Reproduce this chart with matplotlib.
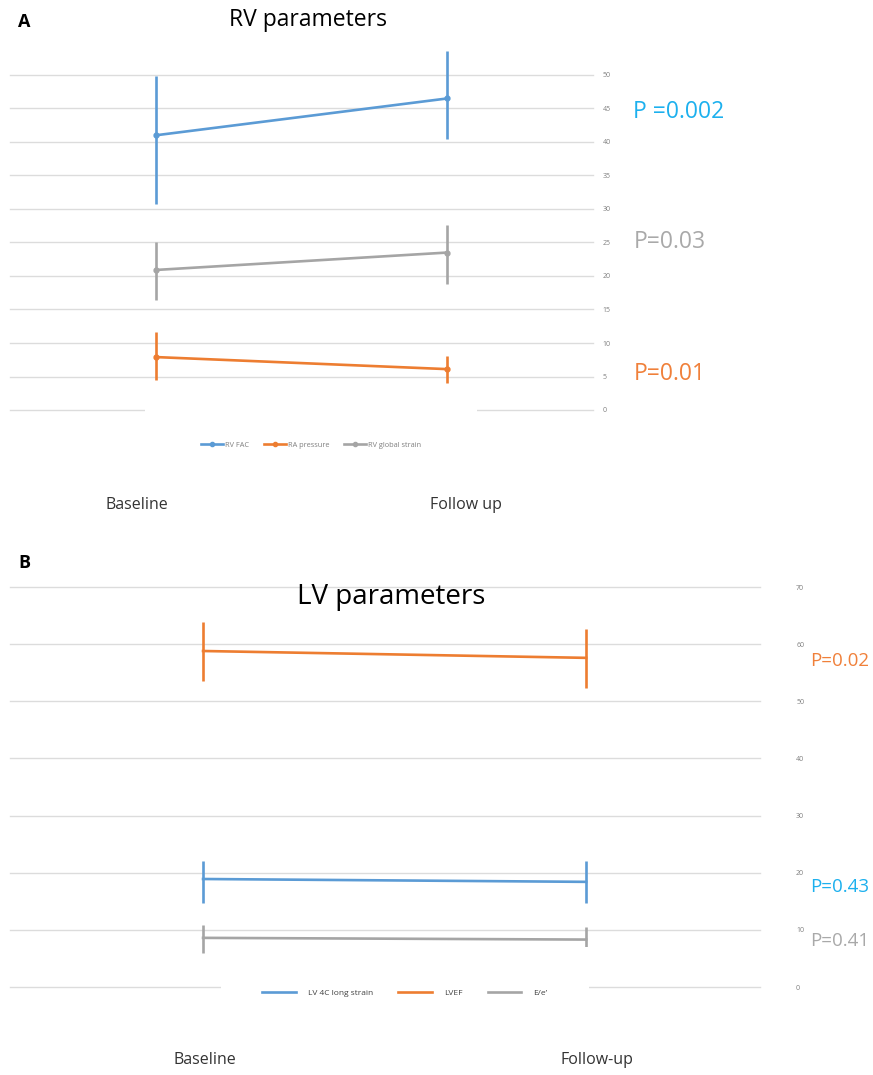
import matplotlib
matplotlib.use("Agg")
import matplotlib.pyplot as plt
from matplotlib.lines import Line2D

plt.rcParams['font.family'] = ['Open Sans', 'DejaVu Sans']

# ---- data ----
timepoints = ['Baseline', 'Follow up']
timepoints_b = ['Baseline', 'Follow-up']

rv_fac = [41.0, 46.5]
rv_fac_lo = [30.8, 40.4]
rv_fac_hi = [49.9, 53.6]

ra_pressure = [7.9, 6.1]
ra_pressure_lo = [4.5, 4.0]
ra_pressure_hi = [11.7, 8.0]

rv_strain = [20.9, 23.5]
rv_strain_lo = [16.4, 18.8]
rv_strain_hi = [25.1, 27.6]

lv_strain = [18.9, 18.4]
lv_strain_lo = [14.7, 14.7]
lv_strain_hi = [22.0, 22.0]

lvef = [58.8, 57.6]
lvef_lo = [53.6, 52.3]
lvef_hi = [63.9, 62.7]

e_e = [8.6, 8.3]
e_e_lo = [6.0, 5.4]
e_e_hi = [10.8, 10.5]

ticks_a = list(range(0, 55, 5))
ticks_b = list(range(0, 80, 10))

p_a = [('P =0.002', 44.5, '#1CB0EE'), ('P=0.03', 25.0, '#A9A9A9'), ('P=0.01', 5.3, '#F0803A')]
p_b = [('P=0.02', 57.0, '#F0803A'), ('P=0.43', 17.5, '#1CB0EE'), ('P=0.41', 8.0, '#A9A9A9')]

BLUE = '#5B9BD5'
ORANGE = '#ED7D31'
GRAY = '#A5A5A5'

W, H = 873, 1075
fig = plt.figure(figsize=(W / 100, H / 100), dpi=100)


def px_axes(left, top, right, bottom):
    return fig.add_axes([left / W, 1 - bottom / H, (right - left) / W, (bottom - top) / H])


def style_axes(ax, ticks, pad):
    for s in ax.spines.values():
        s.set_visible(False)
    ax.set_yticks(ticks)
    ax.yaxis.tick_right()
    ax.tick_params(axis='y', length=0, labelsize=5, labelcolor='#7f7f7f', pad=pad)
    ax.set_xticks([])
    ax.grid(axis='y', color='#dcdcdc', linewidth=1.0)
    ax.set_axisbelow(True)
    for g in ax.get_ygridlines():
        g.set_clip_on(False)


def series(ax, x, y, lo, hi, color, marker):
    yerr = [[m - l for m, l in zip(y, lo)], [h - m for m, h in zip(y, hi)]]
    eb = ax.errorbar(x, y, yerr=yerr, color=color, lw=1.9, elinewidth=1.9, capsize=0,
                     marker=marker, ms=3.5, clip_on=False, zorder=3)
    for part in eb.lines[2]:
        part.set_clip_on(False)
    return eb


def p_labels(ax, items, offset, size):
    for txt, yv, c in items:
        ax.annotate(txt, xy=(1.0, yv), xycoords=ax.get_yaxis_transform(), xytext=(offset, 0),
                    textcoords='offset points', color=c, fontsize=size, va='center', ha='left',
                    annotation_clip=False)


# ---- panel A ----
axA = px_axes(10, 75, 593, 410)
axA.set_xlim(-0.5, 1.5)
axA.set_ylim(0, 50)
style_axes(axA, ticks_a, 7)
xa = [0, 1]
series(axA, xa, rv_fac, rv_fac_lo, rv_fac_hi, BLUE, 'o')
series(axA, xa, ra_pressure, ra_pressure_lo, ra_pressure_hi, ORANGE, 'o')
series(axA, xa, rv_strain, rv_strain_lo, rv_strain_hi, GRAY, 'o')
p_labels(axA, p_a, 29, 16.5)
hA = [Line2D([], [], color=c, lw=1.9, marker='o', ms=3) for c in (BLUE, ORANGE, GRAY)]
legA = axA.legend(hA, ['RV FAC', 'RA pressure', 'RV global strain'], loc='center',
                  bbox_to_anchor=(311 / W, 1 - 445 / H), bbox_transform=fig.transFigure,
                  ncol=3, fontsize=5.3, frameon=True, facecolor='white', edgecolor='none', framealpha=1,
                  borderpad=7.5, handlelength=3.0, handletextpad=0.3, columnspacing=2.0, labelcolor='#7f7f7f')
legA.set_zorder(5)

fig.text(18 / W, 1 - 22 / H, 'A', fontsize=13, fontweight='bold', va='center', ha='left')
fig.text(308 / W, 1 - 20 / H, 'RV parameters', fontsize=16.5, va='center', ha='center')
fig.text(137 / W, 1 - 505 / H, timepoints[0], fontsize=11.5, va='center', ha='center', color='#333333')
fig.text(466 / W, 1 - 505 / H, timepoints[1], fontsize=11.5, va='center', ha='center', color='#333333')

# ---- panel B ----
axB = px_axes(10, 587, 760, 987)
axB.set_xlim(-0.504, 1.454)
axB.set_ylim(0, 70)
style_axes(axB, ticks_b, 26)
xb = [0, 1]
series(axB, xb, lv_strain, lv_strain_lo, lv_strain_hi, BLUE, None)
series(axB, xb, lvef, lvef_lo, lvef_hi, ORANGE, None)
series(axB, xb, e_e, e_e_lo, e_e_hi, GRAY, None)
p_labels(axB, p_b, 36, 13.5)
hB = [Line2D([], [], color=c, lw=1.9) for c in (BLUE, ORANGE, GRAY)]
legB = axB.legend(hB, ['LV 4C long strain', 'LVEF', 'E/e\u2019'], loc='center',
                  bbox_to_anchor=(405 / W, 1 - 993 / H), bbox_transform=fig.transFigure,
                  ncol=3, fontsize=6, frameon=True, facecolor='white', edgecolor='none', framealpha=1,
                  borderpad=5.0, handlelength=4.0, handletextpad=1.5, columnspacing=3.0, labelcolor='#404040')
legB.set_zorder(5)

fig.text(18 / W, 1 - 563 / H, 'B', fontsize=13, fontweight='bold', va='center', ha='left')
fig.text(391 / W, 1 - 597 / H, 'LV parameters', fontsize=20, va='center', ha='center')
fig.text(205 / W, 1 - 1060 / H, timepoints_b[0], fontsize=11.5, va='center', ha='center', color='#333333')
fig.text(597 / W, 1 - 1060 / H, timepoints_b[1], fontsize=11.5, va='center', ha='center', color='#333333')

fig.savefig('out.png', dpi=100, facecolor='white')
